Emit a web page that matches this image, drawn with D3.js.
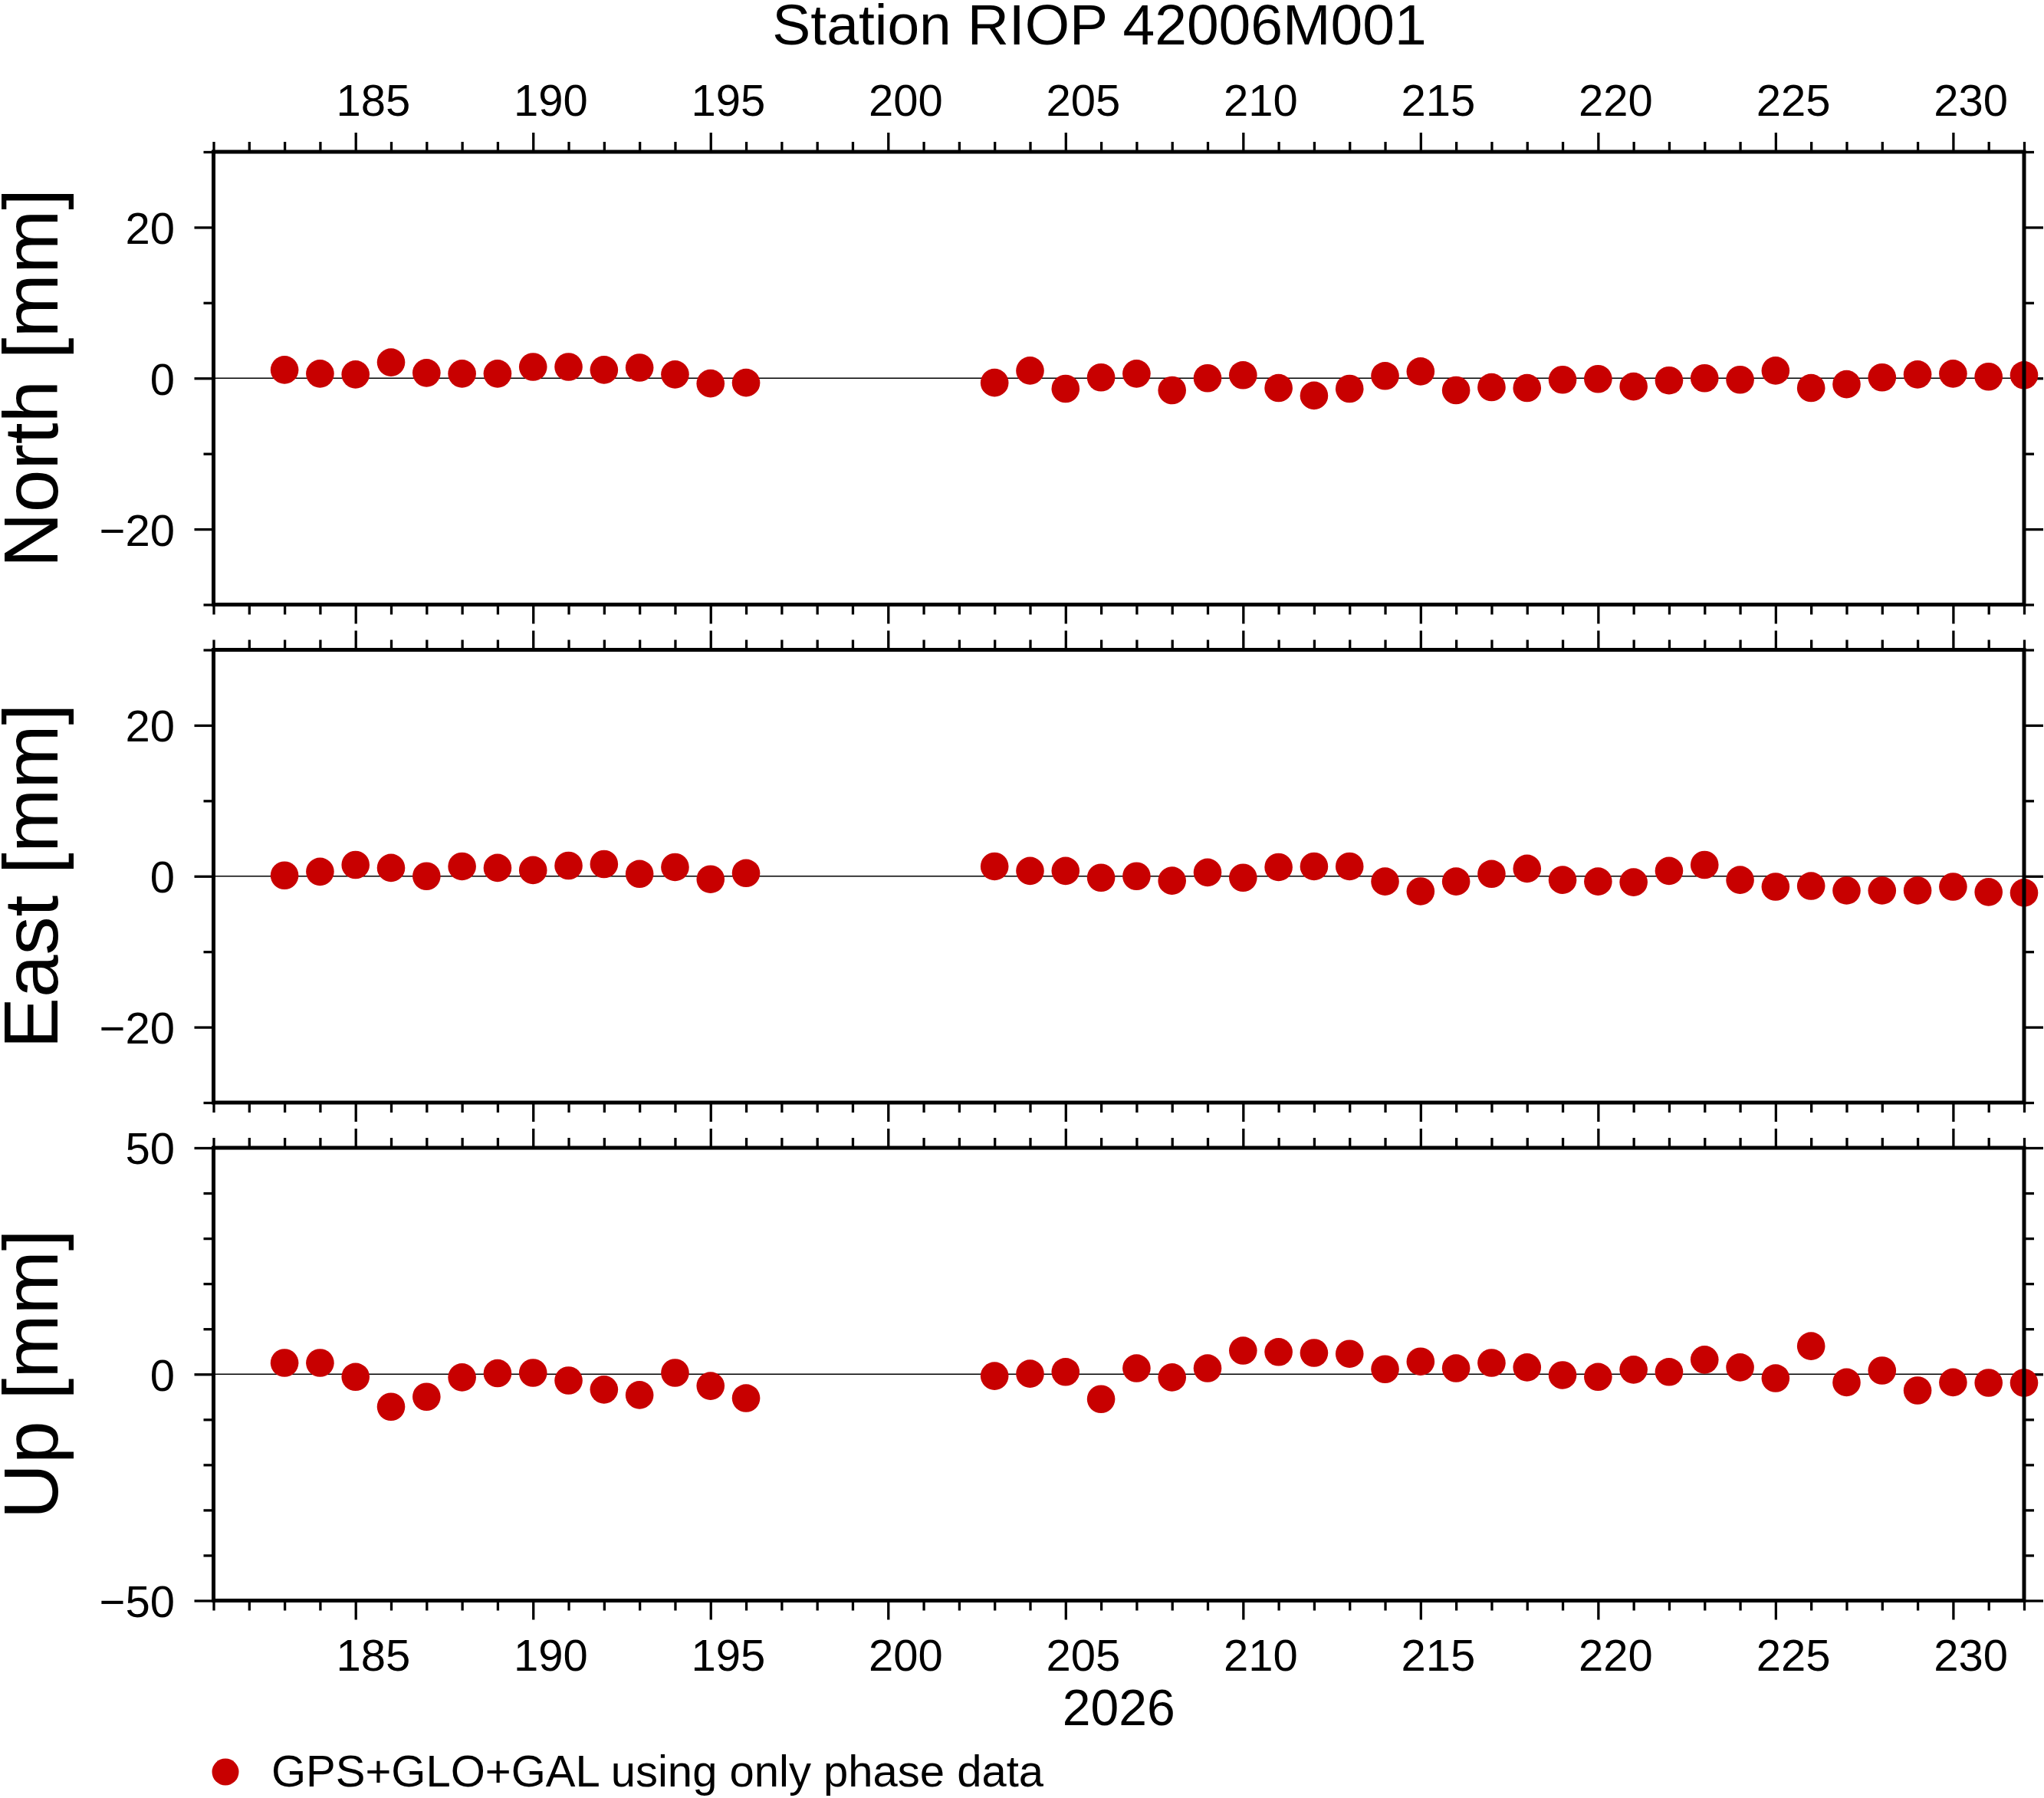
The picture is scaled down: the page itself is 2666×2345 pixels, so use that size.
<!DOCTYPE html>
<html>
<head>
<meta charset="utf-8">
<script src="https://cdn.jsdelivr.net/npm/d3@7"></script>
<style>
  body { margin: 0; background: #fff; }
  text { font-family: "Liberation Sans", Arial, Helvetica, sans-serif; fill: #000; }
</style>
</head>
<body>
<div id="chart"></div>
<script>
// day of year 2026 (gap 197-202 has no solutions)
const days = [183, 184, 185, 186, 187, 188, 189, 190, 191, 192, 193, 194, 195, 196,
              203, 204, 205, 206, 207, 208, 209, 210, 211, 212, 213, 214, 215, 216, 217,
              218, 219, 220, 221, 222, 223, 224, 225, 226, 227, 228, 229, 230, 231, 232];

const north = [1.1, 0.6, 0.5, 2.1, 0.7, 0.6, 0.6, 1.5, 1.5, 1.1, 1.4, 0.5, -0.7, -0.6,
               -0.6, 1.0, -1.4, 0.1, 0.6, -1.6, 0.0, 0.4, -1.3, -2.3, -1.4, 0.3, 0.9, -1.6, -1.2,
               -1.3, -0.2, -0.1, -1.1, -0.3, 0.0, -0.2, 1.0, -1.3, -0.8, 0.1, 0.5, 0.6, 0.2, 0.4];

const east = [0.1, 0.6, 1.5, 1.1, 0.0, 1.3, 1.1, 0.8, 1.4, 1.6, 0.3, 1.2, -0.4, 0.4,
              1.3, 0.7, 0.7, -0.2, 0.0, -0.6, 0.5, -0.2, 1.2, 1.3, 1.3, -0.7, -2.0, -0.7, 0.3,
              1.0, -0.5, -0.7, -0.8, 0.7, 1.5, -0.5, -1.4, -1.3, -1.9, -1.9, -1.9, -1.4, -2.1, -2.2];

const up = [2.5, 2.5, -0.6, -7.2, -5.0, -0.7, 0.2, 0.3, -1.4, -3.4, -4.6, 0.3, -2.6, -5.3,
            -0.4, 0.1, 0.5, -5.5, 1.3, -0.7, 1.3, 5.2, 4.9, 4.7, 4.5, 1.1, 2.8, 1.3, 2.5,
            1.5, -0.2, -0.6, 1.0, 0.5, 3.2, 1.5, -0.9, 6.2, -1.8, 0.8, -3.6, -1.8, -1.9, -1.9];

const xMajorTicks = [185, 190, 195, 200, 205, 210, 215, 220, 225, 230];

const panels = [
    { label: 'North [mm]', values: north, domain: [-30, 30], major: [-20, 0, 20], minor: [-30, -10, 10, 30] },
    { label: 'East [mm]',  values: east,  domain: [-30, 30], major: [-20, 0, 20], minor: [-30, -10, 10, 30] },
    { label: 'Up [mm]',    values: up,    domain: [-50, 50], major: [-50, 0, 50], minor: [-40, -30, -20, -10, 10, 20, 30, 40] }
];

const title = 'Station RIOP 42006M001';
const yearLabel = '2026';
const legendText = 'GPS+GLO+GAL using only phase data';

const width = 2666;
const height = 2345;
const left = 278.5, right = 2640;
const panelTops = [198, 847.5, 1497];
const panelH = 590.5;
const dotColor = '#c80000';

const svg = d3.select('#chart').append('svg')
    .attr('width', width)
    .attr('height', height)
    .attr('viewBox', `0 0 ${width} ${height}`);

const x = d3.scaleLinear().domain([181, 232]).range([left, right]);
const allDays = d3.range(181, 233);
const minorDays = allDays.filter(d => xMajorTicks.indexOf(d) < 0);

function styleAxis(g) {
    g.select('.domain').remove();
    g.selectAll('.tick line').attr('stroke', '#000').attr('stroke-width', 3.3);
    g.selectAll('.tick text').remove();
}

panels.forEach((p, i) => {
    const top = panelTops[i];
    const y = d3.scaleLinear().domain(p.domain).range([top + panelH, top]);
    const g = svg.append('g');

    // x ticks, top and bottom of each panel
    g.append('g').attr('transform', `translate(0,${top})`)
        .call(d3.axisTop(x).tickValues(minorDays).tickSize(13)).call(styleAxis);
    g.append('g').attr('transform', `translate(0,${top})`)
        .call(d3.axisTop(x).tickValues(xMajorTicks).tickSize(25)).call(styleAxis);
    g.append('g').attr('transform', `translate(0,${top + panelH})`)
        .call(d3.axisBottom(x).tickValues(minorDays).tickSize(13)).call(styleAxis);
    g.append('g').attr('transform', `translate(0,${top + panelH})`)
        .call(d3.axisBottom(x).tickValues(xMajorTicks).tickSize(25)).call(styleAxis);

    // y ticks, left and right
    g.append('g').attr('transform', `translate(${left},0)`)
        .call(d3.axisLeft(y).tickValues(p.minor).tickSize(13)).call(styleAxis);
    g.append('g').attr('transform', `translate(${left},0)`)
        .call(d3.axisLeft(y).tickValues(p.major).tickSize(25)).call(styleAxis);
    g.append('g').attr('transform', `translate(${right},0)`)
        .call(d3.axisRight(y).tickValues(p.minor).tickSize(13)).call(styleAxis);
    g.append('g').attr('transform', `translate(${right},0)`)
        .call(d3.axisRight(y).tickValues(p.major).tickSize(25)).call(styleAxis);

    // y tick labels
    g.selectAll('.ylab').data(p.major).enter().append('text')
        .attr('x', 228)
        .attr('y', d => y(d))
        .attr('dy', '0.37em')
        .attr('text-anchor', 'end')
        .attr('font-size', 58)
        .text(d => d < 0 ? '\u2212' + Math.abs(d) : d);

    // zero line
    g.append('line')
        .attr('x1', left).attr('x2', right)
        .attr('y1', y(0)).attr('y2', y(0))
        .attr('stroke', '#000').attr('stroke-width', 1.3);

    // dots
    g.selectAll('circle').data(p.values).enter().append('circle')
        .attr('cx', (d, j) => x(days[j]))
        .attr('cy', d => y(d))
        .attr('r', 18.3)
        .attr('fill', dotColor);

    // frame
    g.append('rect')
        .attr('x', left).attr('y', top)
        .attr('width', right - left).attr('height', panelH)
        .attr('fill', 'none').attr('stroke', '#000').attr('stroke-width', 5);

    // panel label
    g.append('text')
        .attr('transform', `translate(75,${top + panelH / 2}) rotate(-90)`)
        .attr('text-anchor', 'middle')
        .attr('font-size', 100)
        .text(p.label);

    // x tick labels (centred on the day interval)
    if (i === 0) {
        g.selectAll('.xlab').data(xMajorTicks).enter().append('text')
            .attr('x', d => x(d + 0.5))
            .attr('y', 151)
            .attr('text-anchor', 'middle')
            .attr('font-size', 58)
            .text(d => d);
    }
    if (i === panels.length - 1) {
        g.selectAll('.xlab').data(xMajorTicks).enter().append('text')
            .attr('x', d => x(d + 0.5))
            .attr('y', 2179)
            .attr('text-anchor', 'middle')
            .attr('font-size', 58)
            .text(d => d);
    }
});

// title
svg.append('text')
    .attr('x', 1434).attr('y', 58)
    .attr('text-anchor', 'middle')
    .attr('font-size', 75)
    .text(title);

// year label
svg.append('text')
    .attr('x', (left + right) / 2).attr('y', 2250)
    .attr('text-anchor', 'middle')
    .attr('font-size', 66)
    .text(yearLabel);

// legend
svg.append('circle')
    .attr('cx', 294).attr('cy', 2311)
    .attr('r', 17.5)
    .attr('fill', dotColor);
svg.append('text')
    .attr('x', 354).attr('y', 2330)
    .attr('font-size', 58)
    .text(legendText);
</script>
</body>
</html>
